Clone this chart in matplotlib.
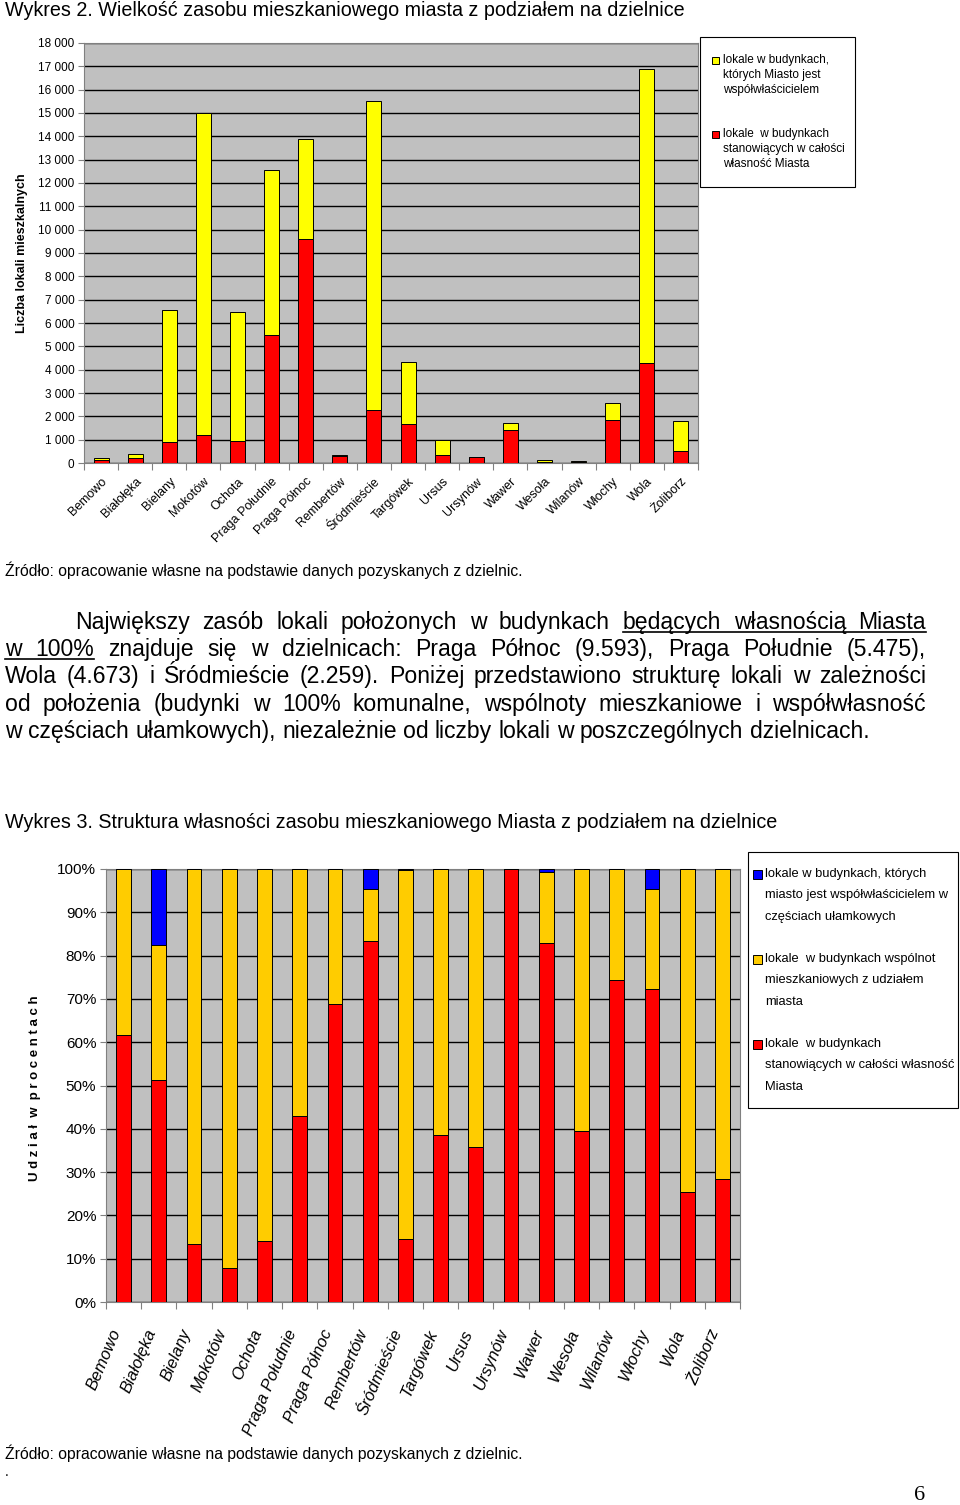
import matplotlib
matplotlib.use('Agg')
import matplotlib.pyplot as plt
from matplotlib.patches import Rectangle
from matplotlib.lines import Line2D
import numpy as np

# dane
districts = ['Bemowo', 'Białołęka', 'Bielany', 'Mokotów', 'Ochota', 'Praga Południe',
             'Praga Północ', 'Rembertów', 'Śródmieście', 'Targówek', 'Ursus', 'Ursynów',
             'Wawer', 'Wesoła', 'Wilanów', 'Włochy', 'Wola', 'Żoliborz']

# wykres 2 - liczba lokali
own_100 = [150, 200, 880, 1210, 950, 5475, 9593, 280, 2259, 1680, 360, 250,
           1410, 60, 30, 1850, 4300, 530]
co_owned = [60, 185, 5660, 13790, 5520, 7085, 4277, 76, 13251, 2650, 623, 6,
            300, 65, 40, 700, 12570, 1280]

# wykres 3 - udzialy w %
pct_own = [61.6, 51.2, 13.3, 7.9, 14.1, 42.9, 68.8, 83.4, 14.6, 38.5, 35.7, 100.0,
           82.8, 39.6, 74.3, 72.2, 25.3, 28.3]
pct_comm = [38.4, 31.2, 86.7, 92.1, 85.9, 57.1, 31.2, 11.9, 85.1, 61.5, 64.3, 0.0,
            16.4, 60.4, 25.7, 23.1, 74.7, 71.7]
pct_frac = [0.0, 17.6, 0.0, 0.0, 0.0, 0.0, 0.0, 4.7, 0.3, 0.0, 0.0, 0.0,
            0.8, 0.0, 0.0, 4.7, 0.0, 0.0]

yticks_top = list(range(0, 18001, 1000))
yticks_bot = list(range(0, 101, 10))

leg_top = [('#ffff00', ['lokale w budynkach,', 'których Miasto jest', 'współwłaścicielem']),
           ('#ff0000', ['lokale  w budynkach', 'stanowiących w całości', 'własność Miasta'])]
leg_bot = [('#0000ff', ['lokale w budynkach, których', 'miasto jest współwłaścicielem w',
                        'częściach ułamkowych']),
           ('#ffcc00', ['lokale  w budynkach wspólnot', 'mieszkaniowych z udziałem', 'miasta']),
           ('#ff0000', ['lokale  w budynkach', 'stanowiących w całości własność', 'Miasta'])]

REG = 'Liberation Sans'
W, H = 960, 1505
fig = plt.figure(figsize=(9.6, 15.05), dpi=100)


def fx(px):
    return px / W


def fy(py):
    return 1 - py / H


def box_legend(x0, y0, x1, y1, entries, fs, sq, sq_x, text_x, first_y, line_h, block_h):
    # ramka legendy rysowana recznie (kwadrat przy pierwszej linii jak w Excelu)
    fig.add_artist(Rectangle((fx(x0), fy(y1)), fx(x1) - fx(x0), (y1 - y0) / H,
                             transform=fig.transFigure, facecolor='white',
                             edgecolor='black', linewidth=0.8, zorder=5))
    for k, (col, lines) in enumerate(entries):
        yc = first_y + k * block_h
        fig.add_artist(Rectangle((fx(sq_x), fy(yc + sq / 2)), sq / W, sq / H,
                                 transform=fig.transFigure, facecolor=col,
                                 edgecolor='black', linewidth=0.7, zorder=6))
        for j, ln in enumerate(lines):
            fig.text(fx(text_x), fy(yc + j * line_h), ln, fontsize=fs, family=REG,
                     va='center', zorder=6)


GRAY = '#c0c0c0'
EDGE = '#808080'
x = np.arange(len(districts))

# ---------- Wykres 2 ----------
fig.text(fx(5), fy(10), 'Wykres 2. Wielkość zasobu mieszkaniowego miasta z podziałem na dzielnice',
         fontsize=14.2, family=REG, va='center')

ax1 = fig.add_axes([fx(84), fy(463), fx(698) - fx(84), (463 - 43) / H])
ax1.set_facecolor(GRAY)
ax1.bar(x, own_100, width=0.44, color='#ff0000', edgecolor='black', linewidth=0.7, zorder=3)
ax1.bar(x, co_owned, width=0.44, bottom=own_100, color='#ffff00', edgecolor='black',
        linewidth=0.7, zorder=3)
ax1.set_xlim(-0.5, len(districts) - 0.5)
ax1.set_ylim(0, 18000)
ax1.set_yticks(yticks_top)
ax1.set_yticklabels([f'{v:,}'.replace(',', ' ') for v in yticks_top], fontsize=8.5, family=REG)
ax1.yaxis.grid(True, color='black', linewidth=1.0, zorder=1)
ax1.set_axisbelow(True)
ax1.set_xticks(np.arange(len(districts) + 1) - 0.5)
ax1.set_xticklabels([])
ax1.set_xticks(x, minor=True)
ax1.set_xticklabels(districts, minor=True, rotation=45, ha='right', rotation_mode='anchor',
                    fontsize=9, family=REG)
ax1.tick_params(axis='x', which='major', length=5, color=EDGE)
ax1.tick_params(axis='x', which='minor', length=0, pad=9)
ax1.tick_params(axis='y', length=4, color=EDGE, pad=3)
for s in ax1.spines.values():
    s.set_color(EDGE)
fig.text(fx(22), fy(253), 'Liczba lokali mieszkalnych', fontsize=9, fontweight='bold',
         family=REG, rotation=90, ha='center', va='center')

box_legend(700, 37, 855, 187, leg_top, fs=8.5, sq=7, sq_x=712, text_x=723,
           first_y=60, line_h=15, block_h=74)

fig.text(fx(5), fy(570), 'Źródło: opracowanie własne na podstawie danych pozyskanych z dzielnic.',
         fontsize=11.3, family=REG, va='center')

# ---------- akapit (wyjustowany) ----------
para = [
    ('Największy zasób lokali położonych w budynkach będących własnością Miasta', 75, True, (6, 8)),
    ('w 100% znajduje się w dzielnicach: Praga Północ (9.593), Praga Południe (5.475),', 5, True, (0, 1)),
    ('Wola (4.673) i Śródmieście (2.259). Poniżej przedstawiono strukturę lokali w zależności', 5, True, None),
    ('od położenia (budynki w 100% komunalne, wspólnoty mieszkaniowe i współwłasność', 5, True, None),
    ('w częściach ułamkowych), niezależnie od liczby lokali w poszczególnych dzielnicach.', 5, False, None),
]
fig.canvas.draw()
rend = fig.canvas.get_renderer()
PFS = 16.6
right_edge = 926
t_a = fig.text(0, 0, 'a a', fontsize=PFS, family=REG)
t_b = fig.text(0, 0, 'aa', fontsize=PFS, family=REG)
sp = t_a.get_window_extent(rend).width - t_b.get_window_extent(rend).width
t_a.remove()
t_b.remove()
for i, (line, x0, just, ul) in enumerate(para):
    base = 629 + i * 27.2
    words = line.split(' ')
    tts = [fig.text(0, fy(base), w, fontsize=PFS, family=REG, va='baseline') for w in words]
    widths = [t.get_window_extent(rend).width for t in tts]
    gap = (right_edge - x0 - sum(widths)) / (len(words) - 1) if just else sp
    xs = []
    cur = x0
    for t, w in zip(tts, widths):
        t.set_x(fx(cur))
        xs.append((cur, cur + w))
        cur += w + gap
    if ul:
        a, b = ul
        fig.add_artist(Line2D([fx(xs[a][0]), fx(xs[b][1])], [fy(base + 3), fy(base + 3)],
                              color='black', linewidth=1.2))

# ---------- Wykres 3 ----------
fig.text(fx(5), fy(823), 'Wykres 3. Struktura własności zasobu mieszkaniowego Miasta z podziałem na dzielnice',
         fontsize=14.2, family=REG, va='center')

ax2 = fig.add_axes([fx(106), fy(1302), fx(740) - fx(106), (1302 - 869) / H])
ax2.set_facecolor(GRAY)
bottom2 = np.array(pct_own)
ax2.bar(x, pct_own, width=0.42, color='#ff0000', edgecolor='black', linewidth=0.7, zorder=3)
ax2.bar(x, pct_comm, width=0.42, bottom=bottom2, color='#ffcc00', edgecolor='black',
        linewidth=0.7, zorder=3)
ax2.bar(x, pct_frac, width=0.42, bottom=bottom2 + np.array(pct_comm), color='#0000ff',
        edgecolor='black', linewidth=0.7, zorder=3)
ax2.set_xlim(-0.5, len(districts) - 0.5)
ax2.set_ylim(0, 100)
ax2.set_yticks(yticks_bot)
ax2.set_yticklabels([f'{v}%' for v in yticks_bot], fontsize=11, family=REG)
ax2.yaxis.grid(True, color='black', linewidth=1.0, zorder=1)
ax2.set_axisbelow(True)
ax2.set_xticks(np.arange(len(districts) + 1) - 0.5)
ax2.set_xticklabels([])
ax2.set_xticks(x, minor=True)
ax2.set_xticklabels(districts, minor=True, rotation=67, ha='right', va='top',
                    fontsize=12, family=REG, style='italic')
ax2.tick_params(axis='x', which='major', length=5, color=EDGE)
ax2.tick_params(axis='x', which='minor', length=0, pad=18)
ax2.tick_params(axis='y', length=4, color=EDGE, pad=3)
for s in ax2.spines.values():
    s.set_color(EDGE)
fig.text(fx(35), fy(1088), 'U d z i a ł  w  p r o c e n t a c h', fontsize=9.5,
         fontweight='bold', family=REG, rotation=90, ha='center', va='center')

box_legend(748, 852, 958, 1108, leg_bot, fs=9.3, sq=9, sq_x=753, text_x=765,
           first_y=874, line_h=21.3, block_h=85)

fig.text(fx(5), fy(1453), 'Źródło: opracowanie własne na podstawie danych pozyskanych z dzielnic.',
         fontsize=11.3, family=REG, va='center')
fig.text(fx(5), fy(1472), '.', fontsize=10, family=REG, va='center')
fig.text(fx(920), fy(1496), '6', fontsize=16, family='Liberation Serif', ha='center', va='center')

fig.savefig('out.png', dpi=100)
